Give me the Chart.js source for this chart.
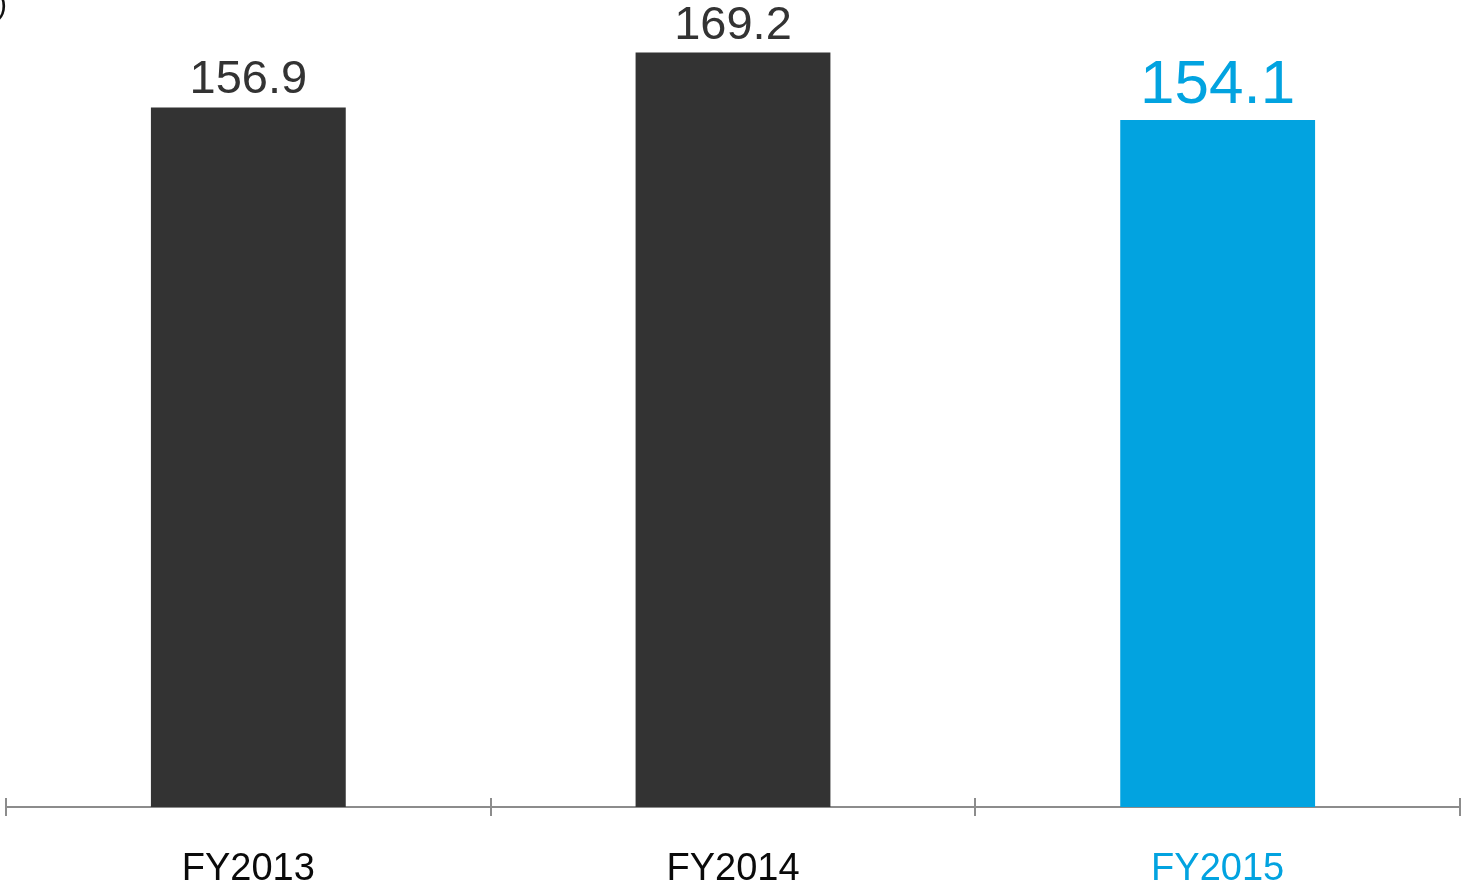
<!DOCTYPE html>
<html>
<head>
<meta charset="utf-8">
<script src="https://cdn.jsdelivr.net/npm/chart.js@4"></script>
<style>
  html, body { margin: 0; padding: 0; background: #fff; }
  #wrap { width: 1461px; height: 885px; }
</style>
</head>
<body>
<div id="wrap"><canvas id="grafica"></canvas></div>
<script>
const categorias = ['FY2013', 'FY2014', 'FY2015'];
const valores = [156.9, 169.2, 154.1];
const etiquetas = ['156.9', '169.2', '154.1'];

const oscuro = '#333333';
const azul = '#02A3E0';
const coloresBarra = [oscuro, oscuro, azul];
const coloresEje = ['#0a0a0a', '#0a0a0a', azul];

// etiquetas de valor sobre cada barra
const etiquetasValor = {
  id: 'etiquetasValor',
  afterDatasetsDraw(chart) {
    const c = chart.ctx;
    const meta = chart.getDatasetMeta(0);
    c.save();
    c.textAlign = 'center';
    c.textBaseline = 'alphabetic';
    meta.data.forEach((bar, i) => {
      const ultimo = i === valores.length - 1;
      c.font = (ultimo ? '62px' : '47px') + ' "Liberation Sans", Arial, sans-serif';
      c.fillStyle = ultimo ? azul : oscuro;
      c.fillText(etiquetas[i], bar.x, bar.y - (ultimo ? 17 : 14));
    });
    c.restore();
  }
};

// marcas del eje entre categorias y el parentesis de la unidad
const marcasEje = {
  id: 'marcasEje',
  afterDraw(chart) {
    const c = chart.ctx;
    const x = chart.scales.x;
    const y0 = chart.chartArea.bottom;
    c.save();
    c.strokeStyle = '#8c8c8c';
    c.lineWidth = 2;
    for (let i = 0; i <= categorias.length; i++) {
      const px = Math.round(x.getPixelForValue(i - 0.5));
      c.beginPath();
      c.moveTo(px, y0 - 9);
      c.lineTo(px, y0 + 9);
      c.stroke();
    }
    c.fillStyle = '#111111';
    c.font = '30px "Liberation Sans", Arial, sans-serif';
    c.textAlign = 'right';
    c.textBaseline = 'alphabetic';
    c.fillText(')', 7, 14);
    c.restore();
  }
};

new Chart(document.getElementById('grafica'), {
  type: 'bar',
  data: {
    labels: categorias,
    datasets: [{
      data: valores,
      backgroundColor: coloresBarra,
      borderWidth: 0,
      categoryPercentage: 1,
      barPercentage: 0.402
    }]
  },
  options: {
    responsive: true,
    maintainAspectRatio: false,
    animation: false,
    layout: { padding: { left: 6, right: 1, top: 0, bottom: -48 } },
    plugins: {
      legend: { display: false },
      tooltip: { enabled: false }
    },
    scales: {
      x: {
        grid: { display: false, drawTicks: false },
        border: { display: true, color: '#8c8c8c', width: 2 },
        ticks: {
          padding: 45,
          color: coloresEje,
          font: { family: '"Liberation Sans", Arial, sans-serif', size: 38, lineHeight: 0.95 }
        }
      },
      y: {
        display: false,
        min: 0,
        max: 181
      }
    }
  },
  plugins: [etiquetasValor, marcasEje]
});
</script>
</body>
</html>
